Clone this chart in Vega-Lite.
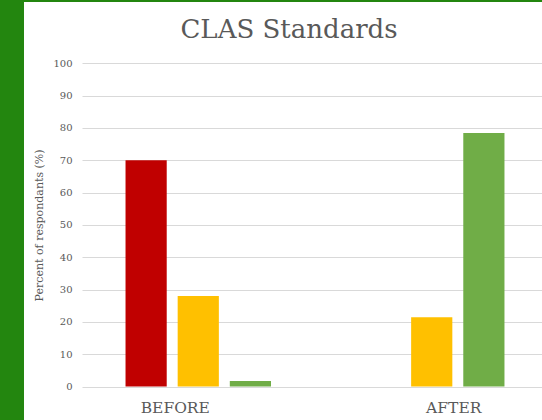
{
  "$schema": "https://vega.github.io/schema/vega-lite/v6.json",
  "width": 518,
  "height": 418,
  "autosize": {"type": "none"},
  "padding": {"left": 24, "top": 2, "right": 0, "bottom": 0},
  "background": "#23860F",
  "view": {"fill": "white", "stroke": null},
  "title": {
    "text": "CLAS Standards",
    "font": "DejaVu Serif",
    "fontSize": 26,
    "fontWeight": "normal",
    "color": "#595959",
    "anchor": "middle",
    "frame": "group",
    "orient": "top",
    "offset": -25,
    "baseline": "alphabetic",
    "dy": 37,
    "dx": 6
  },
  "data": {
    "values": [
      {"phase": "BEFORE", "level": "Low", "percent": 70.0},
      {"phase": "BEFORE", "level": "Moderate", "percent": 28.0},
      {"phase": "BEFORE", "level": "High", "percent": 1.7},
      {"phase": "AFTER", "level": "Moderate", "percent": 21.4},
      {"phase": "AFTER", "level": "High", "percent": 78.4}
    ]
  },
  "mark": {"type": "bar"},
  "encoding": {
    "x": {
      "field": "phase",
      "type": "nominal",
      "sort": ["BEFORE", "AFTER"],
      "scale": {"range": [58, 524], "paddingInner": 0.33, "paddingOuter": 0.163},
      "axis": {
        "title": null,
        "offset": -33.5,
        "domain": false,
        "ticks": false,
        "labelAngle": 0,
        "labelFont": "DejaVu Serif",
        "labelFontSize": 15.5,
        "labelColor": "#595959",
        "labelPadding": 14,
        "labelOffset": {"condition": {"test": "datum.value === 'BEFORE'", "value": -23}, "value": 22}
      }
    },
    "xOffset": {
      "field": "level",
      "type": "nominal",
      "scale": {"domain": ["Low", "Moderate", "High"], "paddingInner": 0.21, "paddingOuter": 0.105}
    },
    "y": {
      "field": "percent",
      "type": "quantitative",
      "scale": {"domain": [0, 100], "range": [384.5, 61.3], "nice": false},
      "axis": {
        "title": "Percent of respondants (%)",
        "titleFont": "DejaVu Serif",
        "titleFontSize": 11,
        "titleFontWeight": "normal",
        "titleColor": "#595959",
        "titlePadding": 8,
        "offset": -58,
        "values": [0, 10, 20, 30, 40, 50, 60, 70, 80, 90, 100],
        "domain": false,
        "ticks": false,
        "labelFont": "DejaVu Serif",
        "labelFontSize": 10,
        "labelColor": "#595959",
        "labelPadding": 10,
        "gridColor": "#D9D9D9",
        "gridWidth": 1
      }
    },
    "color": {
      "field": "level",
      "type": "nominal",
      "scale": {"domain": ["Low", "Moderate", "High"], "range": ["#C00000", "#FFC000", "#70AD47"]},
      "legend": null
    }
  }
}
